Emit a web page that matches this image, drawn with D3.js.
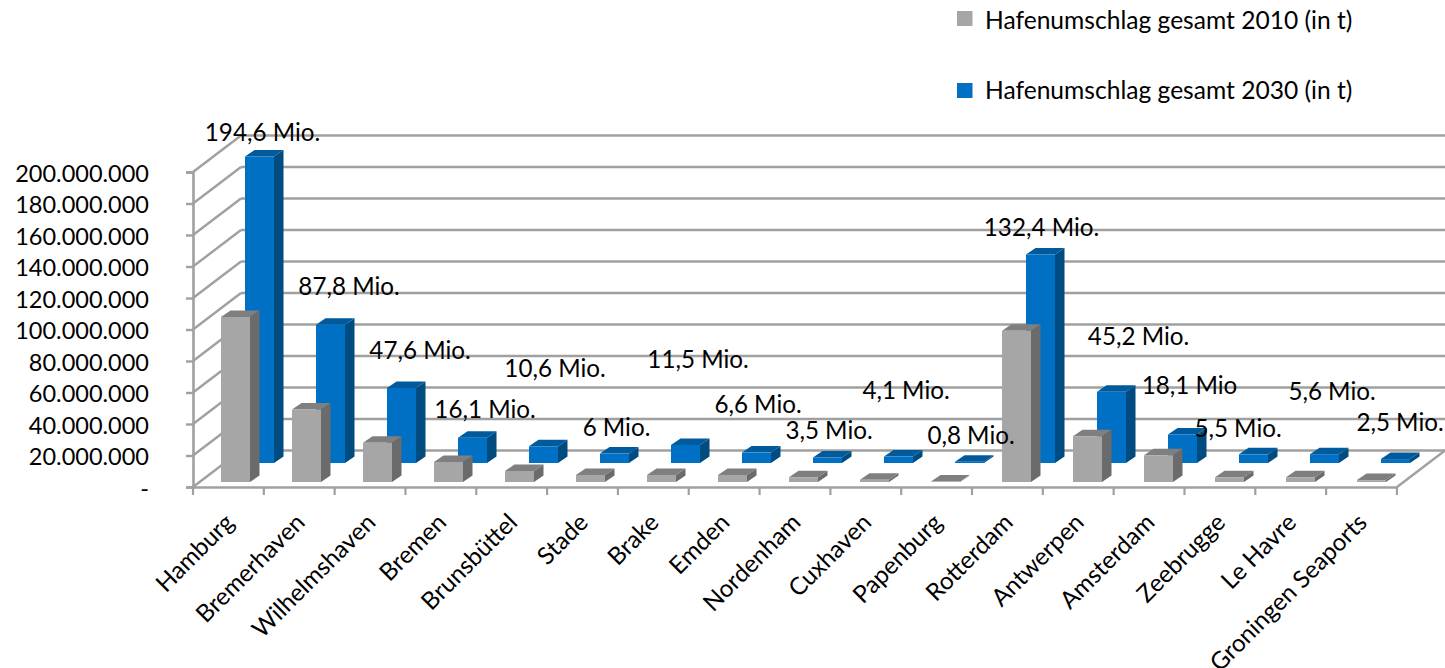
<!DOCTYPE html>
<html><head><meta charset="utf-8">
<script src="https://cdn.jsdelivr.net/npm/d3@7/dist/d3.min.js"></script>
<style>html,body{margin:0;padding:0;background:#fff;overflow:hidden}text{font-family:Lato,"Open Sans",sans-serif;fill:#000}</style>
</head><body><svg id="c" width="1445" height="668"></svg>
<script>
const categories=["Hamburg","Bremerhaven","Wilhelmshaven","Bremen","Brunsbüttel","Stade","Brake","Emden","Nordenham","Cuxhaven","Papenburg","Rotterdam","Antwerpen","Amsterdam","Zeebrugge","Le Havre","Groningen Seaports"];
const values2010=[104.8,46,25,12.7,7,4.5,4.5,4.5,3,1.5,0.3,96,29,17,3,3,1.2];
const values2030=[194.6,87.8,47.6,16.1,10.6,6,11.5,6.6,3.5,4.1,0.8,132.4,45.2,18.1,5.5,5.6,2.5];
const dataLabels=["194,6 Mio.","87,8 Mio.","47,6 Mio.","16,1 Mio.","10,6 Mio.","6 Mio.","11,5 Mio.","6,6 Mio.","3,5 Mio.","4,1 Mio.","0,8 Mio.","132,4 Mio.","45,2 Mio.","18,1 Mio","5,5 Mio.","5,6 Mio.","2,5 Mio."];
const yTicks=[0,20,40,60,80,100,120,140,160,180,200];
const seriesNames=["Hafenumschlag gesamt 2010 (in t)","Hafenumschlag gesamt 2030 (in t)"];
// layout: hand-placed label nudges relative to the top of each 2030 bar
const labelNudge=[[3,-25.5],[18.5,-39],[18.5,-39],[12.5,-29],[11.5,-79],[2,-27.5],[12.5,-86],[1.5,-49.6],[1.5,-27.5],[7.5,-67.5],[1.5,-27.7],[1,-27.5],[27,-56.8],[7,-49.5],[-15.5,-27.3],[7.5,-64],[4.5,-38]];

const svg=d3.select("#c");
const y=d3.scaleLinear().domain([0,200]).range([487,172]);
const x=d3.scaleBand().domain(categories).range([193,193+70.82*17]);
const barX=d3.scaleBand().domain(categories).range([221,221+71*17]);
const GRID="#a0a0a0",depth=[48,-36.5];

svg.append("g").selectAll("line.b").data(yTicks).join("line")
 .attr("x1",193+depth[0]).attr("x2",1445).attr("y1",d=>y(d)+depth[1]).attr("y2",d=>y(d)+depth[1])
 .attr("stroke",GRID).attr("stroke-width",2.6);
svg.append("g").selectAll("line.s").data(yTicks).join("line")
 .attr("x1",193).attr("x2",193+depth[0]).attr("y1",d=>y(d)).attr("y2",d=>y(d)+depth[1])
 .attr("stroke",GRID).attr("stroke-width",2.4);
svg.append("line").attr("x1",1397).attr("x2",1445).attr("y1",487).attr("y2",487+depth[1]).attr("stroke",GRID).attr("stroke-width",2.4);

const yAxis=d3.axisLeft(y).tickValues(yTicks).tickSize(7).tickPadding(37)
 .tickFormat(d=>d===0?"-":d3.format(",")(d*1e6).replace(/,/g,"."));
const gy=svg.append("g").attr("transform","translate(193,0)").call(yAxis);
const xAxis=d3.axisBottom(x).tickValues([]).tickSize(0);
const gx=svg.append("g").attr("transform","translate(0,487)").call(xAxis);
svg.selectAll(".domain").attr("stroke",GRID).attr("stroke-width",2.6);
gy.selectAll("line").attr("stroke",GRID).attr("stroke-width",2.4);
gy.selectAll("text").attr("font-size",23.5).attr("dy","0.39em").style("fill","#000");
const tickPos=d3.range(categories.length+1);
svg.append("g").selectAll("line").data(tickPos).join("line")
 .attr("x1",i=>193+x.step()*i).attr("x2",i=>193+x.step()*i).attr("y1",487).attr("y2",495)
 .attr("stroke",GRID).attr("stroke-width",2.2);
svg.append("g").selectAll("text").data(categories).join("text")
 .attr("text-anchor","end").attr("font-size",24.2)
 .attr("transform",d=>`translate(${x(d)+x.step()/2+7},${524}) rotate(-45)`).text(d=>d);

function drawBars(vals,shiftY,cols,offX){
 const w=29,dx=9.5,dy=-6.5;
 const g=svg.append("g");
 const line=d3.line();
 const items=categories.map((c,i)=>({x:barX(c)+offX,top:y(vals[i])+shiftY,base:487+shiftY}));
 const bars=g.selectAll("g").data(items).join("g");
 bars.append("path").attr("fill",cols[1]).attr("d",d=>line([[d.x+w,d.top],[d.x+w+dx,d.top+dy],[d.x+w+dx,d.base+dy],[d.x+w,d.base]])+"Z");
 bars.append("path").attr("fill",cols[2]).attr("d",d=>line([[d.x,d.top],[d.x+dx,d.top+dy],[d.x+w+dx,d.top+dy],[d.x+w,d.top]])+"Z");
 bars.append("path").attr("fill",cols[0]).attr("d",d=>line([[d.x,d.top],[d.x+w,d.top],[d.x+w,d.base],[d.x,d.base]])+"Z");
}
const SH_BLUE=-24,SH_GRAY=-5;
drawBars(values2030,SH_BLUE,["#0070c4","#004b80","#005a9c"],24);
drawBars(values2010,SH_GRAY,["#a6a6a6","#6b6b6b","#7f7f7f"],0);

svg.append("g").selectAll("text").data(dataLabels).join("text")
 .attr("text-anchor","middle").attr("font-size",24.2).attr("dominant-baseline","central")
 .attr("x",(d,i)=>barX(categories[i])+24+14.5+labelNudge[i][0])
 .attr("y",(d,i)=>y(values2030[i])+SH_BLUE+labelNudge[i][1])
 .text(d=>d);

const lg=svg.append("g").selectAll("g").data(seriesNames).join("g");
lg.append("rect").attr("x",957).attr("y",(d,i)=>11+72*i).attr("width",15.5).attr("height",15).attr("fill",(d,i)=>i?"#0070c4":"#a6a6a6");
lg.append("text").attr("x",985).attr("y",(d,i)=>29+70*i).attr("font-size",24.6).text(d=>d);
</script></body></html>
